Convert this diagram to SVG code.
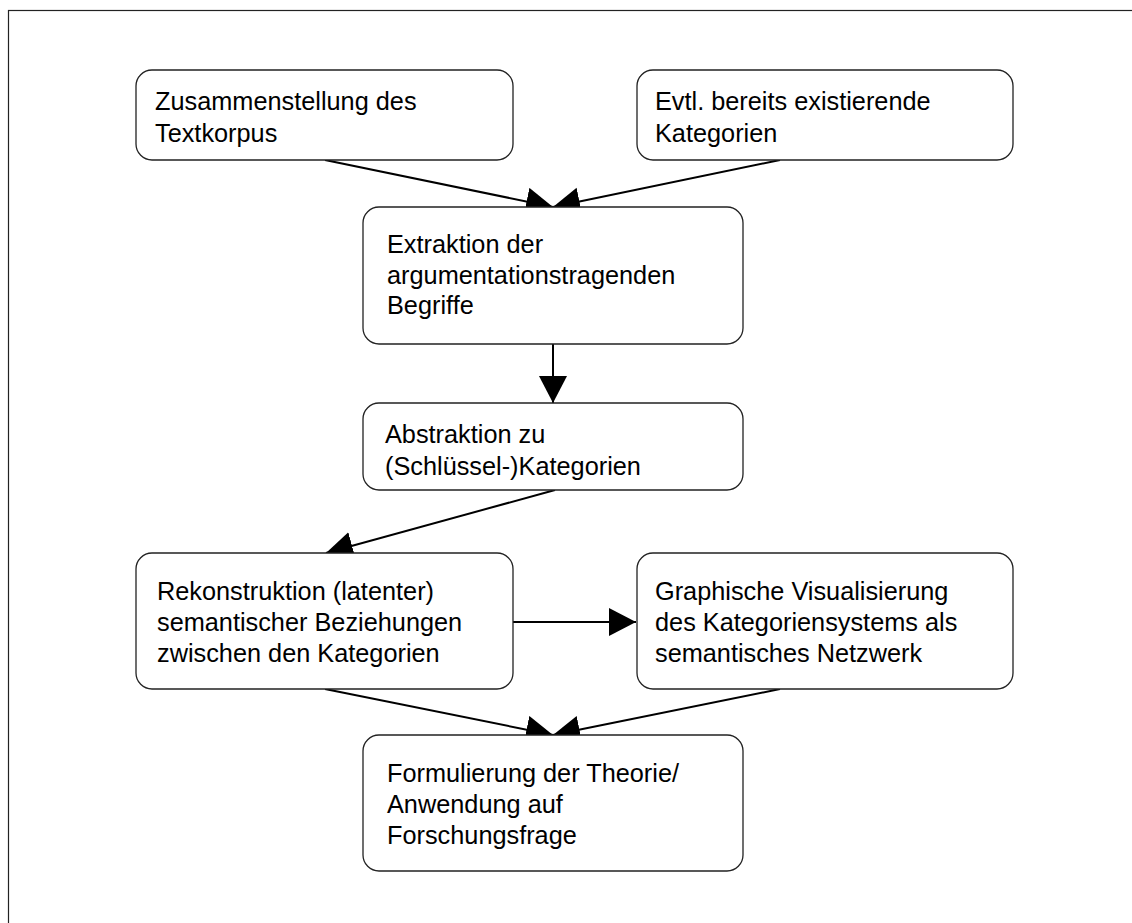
<svg xmlns="http://www.w3.org/2000/svg" width="1132" height="923" viewBox="0 0 1132 923">
<style>
.box{fill:#fff;stroke:#222;stroke-width:1.3}
.t{font-family:"Liberation Sans",Arial,sans-serif;font-size:25.3px;fill:#000}
.c{stroke:#000;stroke-width:2;fill:none}
</style>
<defs>
<marker id="ah" markerUnits="userSpaceOnUse" markerWidth="30" markerHeight="30" refX="27" refY="14" orient="auto">
<path d="M0,0 L27,14 L0,28 Z" fill="#000"/>
</marker>
</defs>
<rect width="1132" height="923" fill="#fff"/>
<rect x="8.5" y="10.5" width="1140" height="930" fill="none" stroke="#222" stroke-width="1.2"/>
<g id="connectors">
<line class="c" x1="325" y1="160" x2="553" y2="207" marker-end="url(#ah)"/>
<line class="c" x1="780" y1="160" x2="553" y2="207" marker-end="url(#ah)"/>
<line class="c" x1="553" y1="344" x2="553" y2="403" marker-end="url(#ah)"/>
<line class="c" x1="555" y1="490" x2="326" y2="553" marker-end="url(#ah)"/>
<line class="c" x1="513" y1="622" x2="636" y2="622" marker-end="url(#ah)"/>
<line class="c" x1="325" y1="689" x2="553" y2="735" marker-end="url(#ah)"/>
<line class="c" x1="780" y1="689" x2="553" y2="735" marker-end="url(#ah)"/>
</g>
<g id="n1"><rect class="box" x="136" y="70" width="377" height="90" rx="16"/>
<text class="t" x="155" y="110">Zusammenstellung des</text><text class="t" x="155" y="142">Textkorpus</text></g>
<g id="n2"><rect class="box" x="637" y="70" width="376" height="90" rx="16"/>
<text class="t" x="655" y="110">Evtl. bereits existierende</text><text class="t" x="655" y="142">Kategorien</text></g>
<g id="n3"><rect class="box" x="363" y="207" width="380" height="137" rx="16"/>
<text class="t" x="387" y="253">Extraktion der</text><text class="t" x="387" y="284">argumentationstragenden</text><text class="t" x="387" y="314">Begriffe</text></g>
<g id="n4"><rect class="box" x="363" y="403" width="380" height="87" rx="16"/>
<text class="t" x="385" y="443">Abstraktion zu</text><text class="t" x="385" y="475">(Schlüssel-)Kategorien</text></g>
<g id="n5"><rect class="box" x="136" y="553" width="377" height="136" rx="16"/>
<text class="t" x="157" y="600">Rekonstruktion (latenter)</text><text class="t" x="157" y="631">semantischer Beziehungen</text><text class="t" x="157" y="662">zwischen den Kategorien</text></g>
<g id="n6"><rect class="box" x="637" y="553" width="376" height="136" rx="16"/>
<text class="t" x="655" y="600">Graphische Visualisierung</text><text class="t" x="655" y="631">des Kategoriensystems als</text><text class="t" x="655" y="662">semantisches Netzwerk</text></g>
<g id="n7"><rect class="box" x="363" y="735" width="380" height="136" rx="16"/>
<text class="t" x="387" y="782">Formulierung der Theorie/</text><text class="t" x="387" y="813">Anwendung auf</text><text class="t" x="387" y="844">Forschungsfrage</text></g>
</svg>
